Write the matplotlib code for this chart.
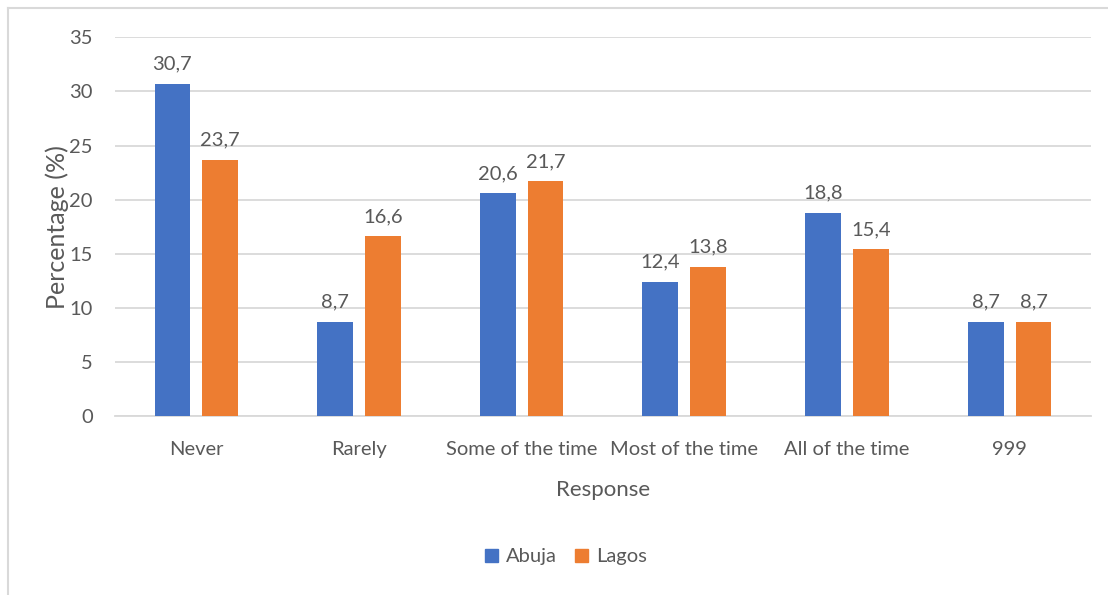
import matplotlib
matplotlib.use("Agg")
import matplotlib.pyplot as plt
import numpy as np
from matplotlib.lines import Line2D
from matplotlib.patches import Patch

categories = ["Never", "Rarely", "Some of the time", "Most of the time", "All of the time", "999"]
abuja = [30.7, 8.7, 20.6, 12.4, 18.8, 8.7]
lagos = [23.7, 16.6, 21.7, 13.8, 15.4, 8.7]
series_names = ["Abuja", "Lagos"]
yticks = [0, 5, 10, 15, 20, 25, 30, 35]

BLUE = "#4472C4"
ORANGE = "#ED7D31"
TEXT = "#595959"
GRID = "#D9D9D9"

plt.rcParams["font.family"] = ["Lato", "DejaVu Sans"]

fig = plt.figure(figsize=(11.08, 5.95), dpi=100)
ax = fig.add_axes([0.1038, 0.3008, 0.8808, 0.6365])

x = np.arange(len(categories))
w = 0.22
off = 0.147
b1 = ax.bar(x - off, abuja, w, color=BLUE, zorder=3)
b2 = ax.bar(x + off, lagos, w, color=ORANGE, zorder=3)

for bars, vals in ((b1, abuja), (b2, lagos)):
    for r, v in zip(bars, vals):
        ax.annotate(f"{v:.1f}".replace(".", ","),
                    (r.get_x() + r.get_width() / 2, v),
                    xytext=(0, 8), textcoords="offset points",
                    ha="center", va="bottom", fontsize=14.5, color=TEXT)

ax.set_xlim(-0.5, len(categories) - 0.5)
ax.set_ylim(0, 35)
ax.set_yticks(yticks)
ax.set_yticklabels([str(t) for t in yticks])
ax.set_xticks(x)
ax.set_xticklabels(categories)
ax.tick_params(axis="both", length=0, labelsize=14.5, colors=TEXT)
ax.tick_params(axis="y", pad=16)
ax.tick_params(axis="x", pad=18)
ax.yaxis.grid(True, color=GRID, linewidth=1.3, zorder=0)
ax.set_axisbelow(True)
for s in ["top", "right", "left"]:
    ax.spines[s].set_visible(False)
ax.spines["bottom"].set_color(GRID)
ax.spines["bottom"].set_linewidth(1.3)

ax.set_ylabel("Percentage (%)", fontsize=18, color=TEXT, labelpad=0)
ax.set_xlabel("Response", fontsize=16, color=TEXT, labelpad=16)

handles = [Patch(color=BLUE), Patch(color=ORANGE)]
fig.legend(handles, series_names, loc="center", bbox_to_anchor=(0.511, 0.064),
           ncol=2, frameon=False, fontsize=14.5, handlelength=0.65, handleheight=0.65,
           handletextpad=0.4, columnspacing=0.9, labelcolor=TEXT)

# chart frame (top and left edges)
fig.add_artist(Line2D([8 / 1108, 1.0], [1 - 8 / 595, 1 - 8 / 595], color=GRID, lw=1.5,
                      transform=fig.transFigure))
fig.add_artist(Line2D([8 / 1108, 8 / 1108], [0, 1 - 8 / 595], color=GRID, lw=1.5,
                      transform=fig.transFigure))

fig.savefig("out.png", dpi=100, facecolor="white")
